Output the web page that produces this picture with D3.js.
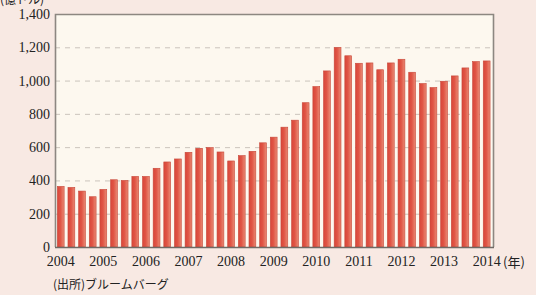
<!DOCTYPE html>
<html><head><meta charset="utf-8">
<script src="https://cdn.jsdelivr.net/npm/d3@7"></script>
<style>
html,body{margin:0;padding:0;background:#f8e9e3;}
svg{display:block;}
text{font-family:"Liberation Serif","DejaVu Serif",serif;fill:#222;}
</style></head><body>
<svg id="c" width="536" height="295"></svg>
<script>
const years = ["2004","2005","2006","2007","2008","2009","2010","2011","2012","2013","2014"];
const quarters = ["Q1","Q2","Q3","Q4"];
const values = [
  364, 358, 336, 302,
  346, 404, 400, 424,
  424, 473, 511, 529,
  569, 593, 597, 571,
  517, 549, 575, 626,
  660, 720, 762, 867,
  964, 1058, 1199, 1149,
  1104, 1106, 1065, 1106,
  1128, 1050, 982, 958,
  996, 1028, 1076, 1114,
  1118
];
const yTicks = [0,200,400,600,800,1000,1200,1400];
const unitLabel = "(億ドル)";
const xUnit = "(年)";
const source = "(出所)ブルームバーグ";

const periods = values.map((v,i)=>years[Math.floor(i/4)]+quarters[i%4]);

const svg = d3.select("#c");
const L=55, R=493, T=14, B=247;
const x = d3.scaleBand().domain(periods).range([55.2, 492.2]).paddingInner(0.36).paddingOuter(0.2);
const y = d3.scaleLinear().domain([0,1400]).range([B,T]);

const defs = svg.append("defs");
const g = defs.append("linearGradient").attr("id","bg").attr("x1","0").attr("x2","1").attr("y1","0").attr("y2","0");
g.append("stop").attr("offset","0").attr("stop-color","#d8463a");
g.append("stop").attr("offset","0.45").attr("stop-color","#e05545");
g.append("stop").attr("offset","1").attr("stop-color","#e98a74");

svg.append("rect").attr("x",L).attr("y",T).attr("width",R-L).attr("height",B-T).attr("fill","#fdf8ef");

// grid
svg.append("g").selectAll("line").data(yTicks.filter(d=>d>0&&d<1400)).join("line")
  .attr("x1",L).attr("x2",R).attr("y1",d=>y(d)+0.5).attr("y2",d=>y(d)+0.5)
  .attr("stroke","#cbc4bc").attr("stroke-width",1).attr("stroke-dasharray","5,5");

// bars
svg.append("g").selectAll("rect").data(values).join("rect")
  .attr("x",(d,i)=>x(periods[i])).attr("width",x.bandwidth())
  .attr("y",d=>y(d)).attr("height",d=>B-y(d))
  .attr("fill","url(#bg)").attr("stroke","#c8483a").attr("stroke-width",0.6);

// frame
svg.append("path").attr("d",`M${L+0.5},${B}V${T+0.5}H${R+0.5}V${B}`)
  .attr("fill","none").attr("stroke","#8d8781").attr("stroke-width",1.6);
svg.append("line").attr("x1",L).attr("x2",R+1).attr("y1",B+0.5).attr("y2",B+0.5)
  .attr("stroke","#6f6a65").attr("stroke-width",1.6);

// y axis labels
const yAxis = d3.axisLeft(y).tickValues(yTicks).tickSize(0).tickPadding(5).tickFormat(d3.format(","));
const ya = svg.append("g").attr("transform",`translate(${L},0)`).call(yAxis);
ya.select(".domain").remove();
ya.selectAll("text").attr("font-size","14px").attr("fill","#222").style("font-family","Liberation Serif, serif");

// x axis labels (at Q1 of each year)
const xAxis = d3.axisBottom(x).tickValues(periods.filter(p=>p.endsWith("Q1"))).tickSize(0).tickPadding(9)
  .tickFormat(p=>p.slice(0,4));
const xa = svg.append("g").attr("transform",`translate(0,${B})`).call(xAxis);
xa.select(".domain").remove();
xa.selectAll("text").attr("font-size","14px").attr("fill","#222").style("font-family","Liberation Serif, serif");

svg.append("text").attr("x",503).attr("y",267).attr("font-size","13px")
  .style("font-family","Noto Sans CJK JP, sans-serif").text(xUnit);
svg.append("text").attr("x",0).attr("y",4).attr("font-size","12px")
  .style("font-family","Noto Sans CJK JP, sans-serif").text(unitLabel);
svg.append("text").attr("x",53).attr("y",289).attr("font-size","12px")
  .style("font-family","Noto Sans CJK JP, sans-serif").text(source);
</script>
</body></html>
